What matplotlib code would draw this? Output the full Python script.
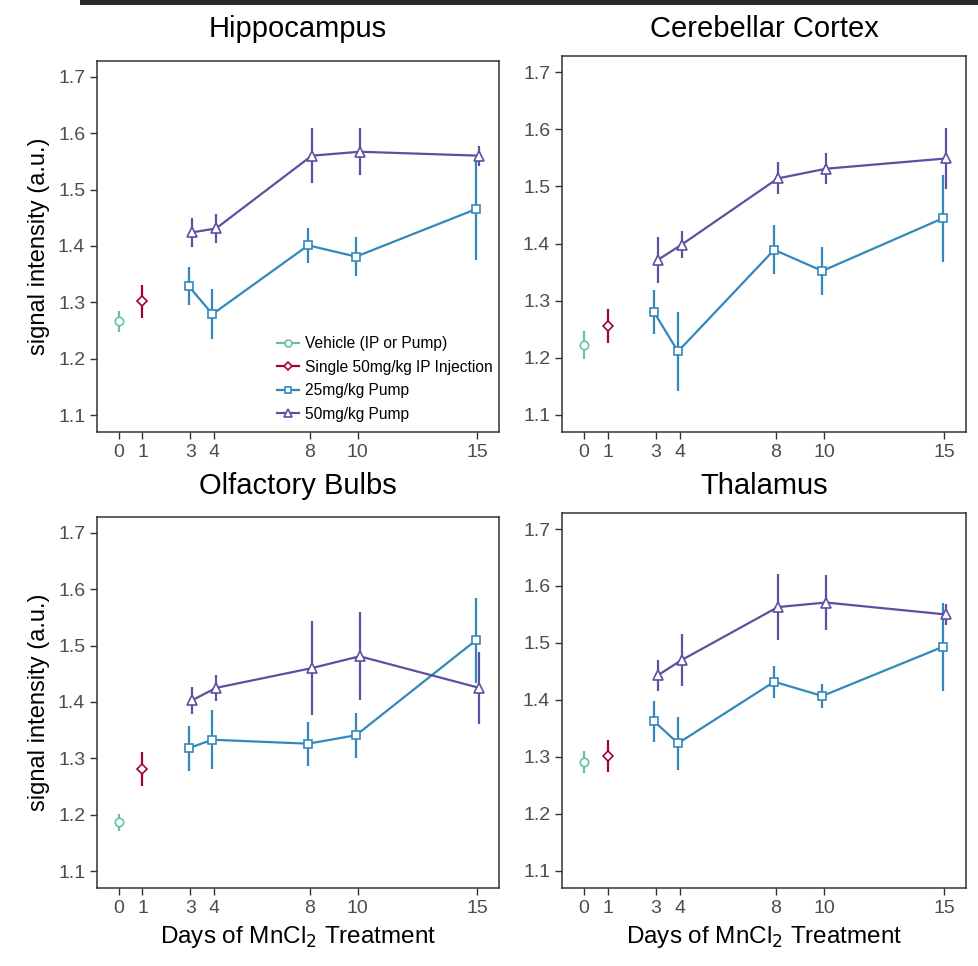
import matplotlib.pyplot as plt
from matplotlib.patches import Rectangle
from matplotlib.lines import Line2D

plt.rcParams['font.family'] = ['Liberation Sans', 'DejaVu Sans']

regions = ["Hippocampus", "Cerebellar Cortex", "Olfactory Bulbs", "Thalamus"]
days = [3, 4, 8, 10, 15]
xticks = [0, 1, 3, 4, 8, 10, 15]

# vehicle (day 0) and single injection (day 1): mean, error
vehicle_mean = [1.266, 1.222, 1.187, 1.291]
vehicle_err = [0.018, 0.024, 0.015, 0.019]
single_mean = [1.302, 1.255, 1.281, 1.301]
single_err = [0.029, 0.030, 0.030, 0.028]

# 25mg/kg pump
pump25_mean = [
    [1.329, 1.279, 1.401, 1.381, 1.465],
    [1.280, 1.211, 1.389, 1.352, 1.444],
    [1.318, 1.333, 1.326, 1.341, 1.509],
    [1.363, 1.324, 1.432, 1.407, 1.493],
]
pump25_err = [
    [0.033, 0.044, 0.031, 0.034, 0.090],
    [0.038, 0.069, 0.043, 0.042, 0.076],
    [0.040, 0.052, 0.039, 0.040, 0.075],
    [0.036, 0.047, 0.028, 0.021, 0.078],
]

# 50mg/kg pump
pump50_mean = [
    [1.424, 1.431, 1.560, 1.567, 1.560],
    [1.371, 1.398, 1.514, 1.531, 1.549],
    [1.403, 1.425, 1.460, 1.481, 1.425],
    [1.443, 1.470, 1.563, 1.571, 1.550],
]
pump50_err = [
    [0.026, 0.025, 0.049, 0.042, 0.018],
    [0.040, 0.024, 0.028, 0.027, 0.053],
    [0.024, 0.023, 0.084, 0.078, 0.064],
    [0.027, 0.045, 0.058, 0.048, 0.019],
]

labels = ["Vehicle (IP or Pump)", "Single 50mg/kg IP Injection",
          "25mg/kg Pump", "50mg/kg Pump"]
colors = ["#66c2a5", "#9e0142", "#3288bd", "#5e4fa2"]
markers = ["o", "D", "s", "^"]
msizes = [6, 5, 6, 6.5]

fig = plt.figure(figsize=(9.79, 9.66), dpi=100)

# dark strip at the very top (part of the figure above)
fig.add_artist(Rectangle((0.082, 0.995), 0.918, 0.005, transform=fig.transFigure,
                         color="#2a2a2a", lw=0))

positions = [
    [0.0991, 0.5528, 0.4106, 0.3841],
    [0.5740, 0.5528, 0.4127, 0.3890],
    [0.0991, 0.0807, 0.4106, 0.3841],
    [0.5740, 0.0807, 0.4127, 0.3882],
]
title_y = [0.970, 0.970, 0.497, 0.497]

for i, name in enumerate(regions):
    ax = fig.add_axes(positions[i])

    series = [
        ([0], [vehicle_mean[i]], [vehicle_err[i]]),
        ([1], [single_mean[i]], [single_err[i]]),
        ([d - 0.075 for d in days], pump25_mean[i], pump25_err[i]),
        ([d + 0.075 for d in days], pump50_mean[i], pump50_err[i]),
    ]
    for k, (xs, ys, es) in enumerate(series):
        ax.errorbar(xs, ys, yerr=es, fmt=markers[k] + "-", color=colors[k],
                    lw=1.6, mfc="white", ms=msizes[k], mew=1.2,
                    elinewidth=1.6, capsize=0, zorder=3)

    ax.set_xlim(-0.9, 15.9)
    ax.set_ylim(1.07, 1.728)
    ax.set_xticks(xticks)
    ax.set_yticks([1.1, 1.2, 1.3, 1.4, 1.5, 1.6, 1.7])
    ax.tick_params(labelsize=14, colors="#333333", labelcolor="#4d4d4d",
                   length=5, width=1)
    for s in ax.spines.values():
        s.set_color("#333333")
        s.set_linewidth(1.1)

    cx = positions[i][0] + positions[i][2] / 2
    fig.text(cx, title_y[i], name, ha="center", va="center", fontsize=21)

    if i % 2 == 0:
        ax.set_ylabel("signal intensity (a.u.)", fontsize=17, labelpad=6)
    if i >= 2:
        ax.set_xlabel("Days of MnCl$_2$ Treatment", fontsize=17.5, labelpad=5)

    if i == 0:
        handles = [Line2D([], [], color=colors[k], marker=markers[k], lw=1.6,
                          mfc="white", ms=msizes[k] - 1, mew=1.2)
                   for k in range(4)]
        ax.legend(handles, labels, loc="upper left", bbox_to_anchor=(0.432, 0.275),
                  frameon=False, fontsize=11.2, handlelength=1.4,
                  handletextpad=0.4, labelspacing=0.55, borderaxespad=0)

fig.savefig("out.png", dpi=100)
